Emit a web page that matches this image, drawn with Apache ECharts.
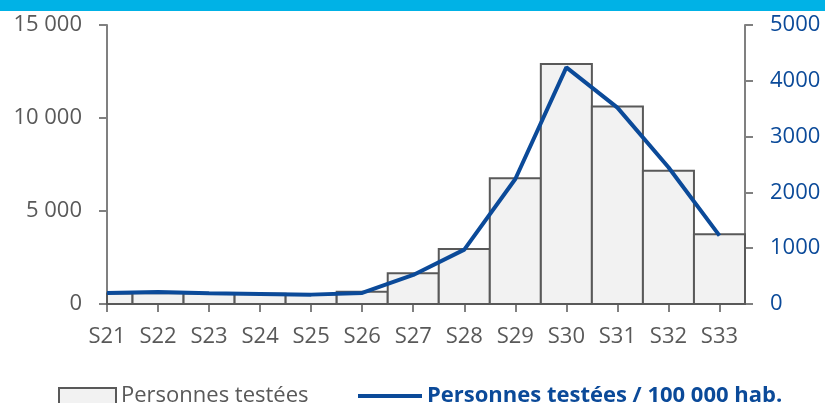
<!DOCTYPE html>
<html>
<head>
<meta charset="utf-8">
<script src="https://cdn.jsdelivr.net/npm/echarts@6/dist/echarts.min.js"></script>
<style>
  html, body { margin: 0; padding: 0; background: #fff; }
  #chart { width: 825px; height: 403px; }
</style>
</head>
<body>
<div id="chart"></div>
<script>
// weeks (S21..S33) as numbers on a value axis so the bars can sit on the ticks
var weeks = [21, 22, 23, 24, 25, 26, 27, 28, 29, 30, 31, 32, 33];
var tested = [565, 580, 560, 545, 530, 660, 1650, 2960, 6760, 12900, 10620, 7170, 3750];
var per100k = [198, 216, 192, 180, 168, 198, 520, 975, 2240, 4240, 3520, 2450, 1225];

var gray = '#595959';
var blue = '#0b4a99';
var axisGray = '#808080';
var font = 'Open Sans';

function pairs(ys) {
    return weeks.map(function (w, i) { return [w, ys[i]]; });
}

// bar one week wide, centred on its tick, clipped to the plot (S21 is cut in half)
function renderBar(params, api) {
    var w = api.value(0);
    var p0 = api.coord([w - 0.5, api.value(1)]);
    var p1 = api.coord([w + 0.5, 0]);
    var cs = params.coordSys;
    var rect = echarts.graphic.clipRectByRect(
        { x: p0[0], y: p0[1], width: p1[0] - p0[0], height: p1[1] - p0[1] },
        { x: cs.x, y: cs.y, width: cs.width, height: cs.height }
    );
    if (!rect) return;
    return {
        type: 'rect',
        shape: rect,
        style: { fill: '#f2f2f2', stroke: gray, lineWidth: 2 }
    };
}

var chart = echarts.init(document.getElementById('chart'), null, { renderer: 'canvas' });

chart.setOption({
    animation: false,
    graphic: [{
        type: 'rect',
        shape: { x: 0, y: 0, width: 825, height: 11 },
        style: { fill: '#00b2e6' },
        silent: true
    }],
    grid: { left: 107, right: 80, top: 25, bottom: 99, outerBoundsMode: 'none', containLabel: false },
    legend: [{
        left: 58, top: 385, padding: 0,
        icon: 'rect', itemWidth: 57, itemHeight: 16,
        textStyle: { color: gray, fontFamily: font, fontSize: 22 },
        data: ['Personnes testées']
    }, {
        left: 358, top: 385, padding: 0,
        icon: 'rect', itemWidth: 64, itemHeight: 4,
        textStyle: { color: blue, fontFamily: font, fontSize: 22, fontWeight: 'bold' },
        data: ['Personnes testées / 100 000 hab.']
    }],
    xAxis: {
        type: 'value',
        min: 21, max: 33.5,
        splitLine: { show: false },
        axisLine: { lineStyle: { color: axisGray, width: 2 } },
        axisTick: { length: 8, customValues: weeks, lineStyle: { color: axisGray, width: 2 } },
        axisLabel: {
            customValues: weeks,
            margin: 22,
            color: gray, fontFamily: font, fontSize: 22,
            formatter: function (v) { return 'S' + v; }
        }
    },
    yAxis: [{
        type: 'value',
        min: 0, max: 15000, interval: 5000,
        splitLine: { show: false },
        axisLine: { show: true, lineStyle: { color: axisGray, width: 2 } },
        axisTick: { show: true, length: 8, lineStyle: { color: axisGray, width: 2 } },
        axisLabel: {
            margin: 25, color: gray, fontFamily: font, fontSize: 22,
            formatter: function (v) { return String(v).replace(/\B(?=(\d{3})+$)/g, ' '); }
        }
    }, {
        type: 'value',
        position: 'right',
        min: 0, max: 5000, interval: 1000,
        splitLine: { show: false },
        axisLine: { show: true, lineStyle: { color: axisGray, width: 2 } },
        axisTick: { show: true, length: 8, lineStyle: { color: axisGray, width: 2 } },
        axisLabel: {
            margin: 25, color: blue, fontFamily: font, fontSize: 22,
            formatter: function (v) { return String(v); }
        }
    }],
    series: [{
        name: 'Personnes testées',
        type: 'custom',
        renderItem: renderBar,
        itemStyle: { color: '#f2f2f2', borderColor: gray, borderWidth: 2 },
        encode: { x: 0, y: 1 },
        data: pairs(tested)
    }, {
        name: 'Personnes testées / 100 000 hab.',
        type: 'line',
        yAxisIndex: 1,
        showSymbol: false,
        symbol: 'none',
        z: 3,
        lineStyle: { color: blue, width: 4 },
        itemStyle: { color: blue },
        data: pairs(per100k)
    }]
});
</script>
</body>
</html>
